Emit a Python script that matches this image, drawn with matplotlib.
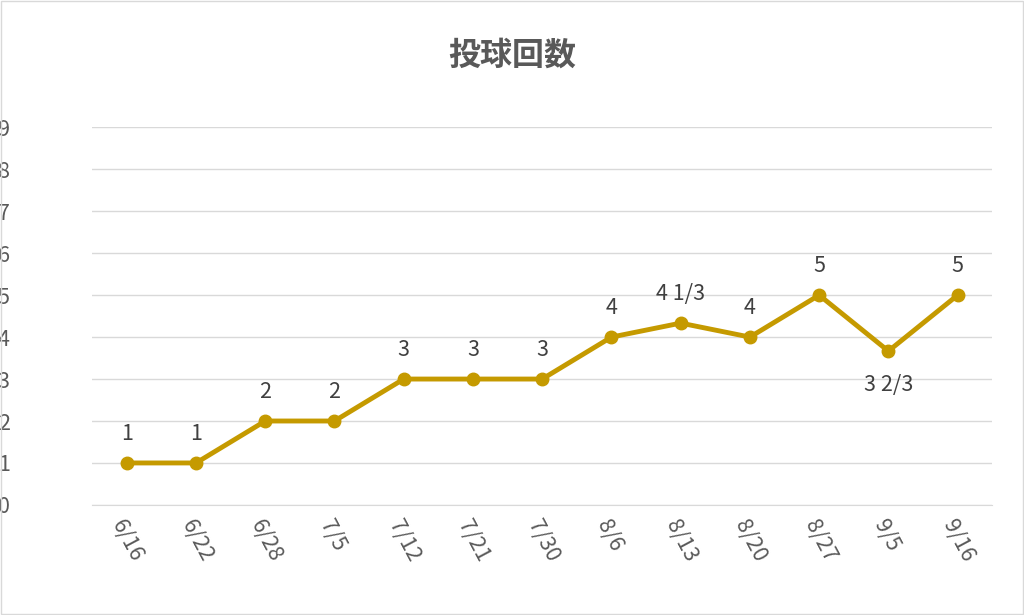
import matplotlib as mpl
mpl.use('Agg')
from matplotlib import pyplot as plt

#------------------ data ----------------------
dates = ['6/16', '6/22', '6/28', '7/5', '7/12', '7/21', '7/30',
         '8/6', '8/13', '8/20', '8/27', '9/5', '9/16']
innings = [1, 1, 2, 2, 3, 3, 3, 4, 4 + 1/3, 4, 5, 3 + 2/3, 5]
labels = ['1', '1', '2', '2', '3', '3', '3', '4', '4 1/3', '4', '5', '3 2/3', '5']
below = [False] * 11 + [True, False]

plt.rcParams['font.family'] = ['Noto Sans CJK JP']
gold = '#C59A00'
txt = '#595959'

fig = plt.figure(figsize=(10.24, 6.15), dpi=100)
fig.patches.append(mpl.patches.Rectangle((0.001, 0.001), 0.998, 0.997, transform=fig.transFigure,
                                         fill=False, edgecolor='#D9D9D9', linewidth=1))
axe = fig.add_axes([0.09, 0.179, 0.879, 0.614])
x = range(len(dates))
axe.plot(x, innings, color=gold, linewidth=3.5, marker='o', markersize=9)
for i, (v, s) in enumerate(zip(innings, labels)):
    off = -32 if below[i] else 13
    axe.annotate(s, (i, v), xytext=(0, off), textcoords='offset points',
                 ha='center', va='bottom', fontsize=15.5, color='#404040')

axe.set_xlim(-0.5, len(dates) - 0.5)
axe.set_ylim(0, 9)
axe.set_yticks(range(10))
axe.set_xticks(list(x))
axe.set_xticklabels(dates, rotation=-62, ha='left', rotation_mode='anchor')
axe.tick_params(length=0, labelsize=15.5, labelcolor=txt, pad=8)
axe.tick_params(axis='y', pad=68)
for lab in axe.get_yticklabels():
    lab.set_ha('left')
axe.grid(axis='y', color='#D9D9D9', linewidth=1)
axe.set_axisbelow(True)
for s in axe.spines.values():
    s.set_visible(False)
axe.spines['bottom'].set_visible(True)
axe.spines['bottom'].set_color('#D9D9D9')

fig.text(0.5, 0.91, '投球回数', ha='center', va='center', fontsize=23,
         fontweight='bold', color=txt)
fig.savefig('out.png', dpi=100)
